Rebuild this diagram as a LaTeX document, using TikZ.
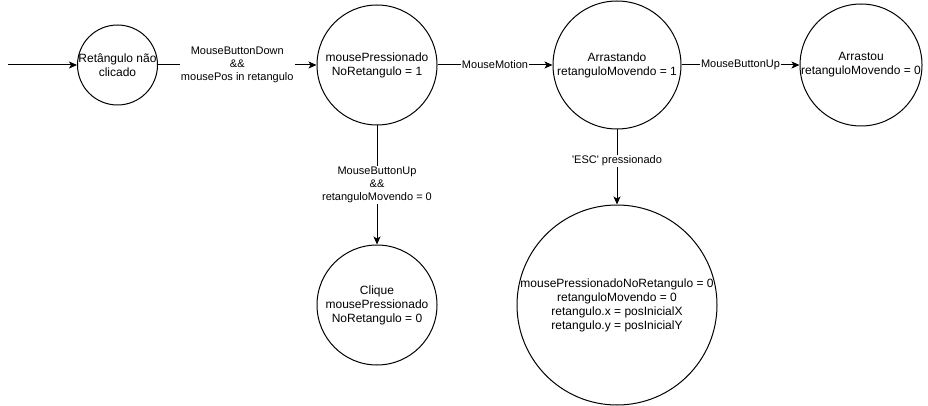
\documentclass[tikz,border=0pt]{standalone}
\usepackage{fontspec}
\setmainfont{Liberation Sans}[Ligatures=TeXOff]
\usetikzlibrary{arrows.meta}

\begin{document}
\begin{tikzpicture}[x=1pt,y=-1pt,
  state/.style={draw, circle, line width=1pt, inner sep=0pt},
  statetext/.style={font=\fontsize{12}{14}\selectfont, align=center, inner sep=0pt},
  trans/.style={-{Stealth[length=8pt,width=7pt,inset=2pt]}, line width=1pt},
  lbl/.style={fill=white, inner sep=1pt, font=\fontsize{11}{13}\selectfont, align=center}]

  \useasboundingbox (0,0) rectangle (928,406);

  % states
  \node[state, minimum size=80pt]  (s0) at (117.5,65) {};
  \node[state, minimum size=120pt] (s1) at (377,65) {};
  \node[state, minimum size=128pt] (s2) at (617,65) {};
  \node[state, minimum size=122pt] (s3) at (861,65) {};
  \node[state, minimum size=120pt] (s4) at (377,305) {};
  \node[state, minimum size=200pt] (s5) at (617,305) {};

  % state texts
  \node[statetext] (t0) at (s0) {Retângulo não\\clicado};
  \node[statetext] (t1) at (s1) {mousePressionado\\NoRetangulo = 1};
  \node[statetext] (t2) at (s2) {Arrastando\\retanguloMovendo = 1};
  \node[statetext] (t3) at (s3) {Arrastou\\retanguloMovendo = 0};
  \node[statetext] (t4) at (s4) {Clique\\mousePressionado\\NoRetangulo = 0};
  \node[statetext] (t5) at (s5) {mousePressionadoNoRetangulo = 0\\retanguloMovendo = 0\\retangulo.x = posInicialX\\retangulo.y = posInicialY};

  % initial arrow
  \coordinate (start) at (8,65);
  \draw[trans] (start) -- (s0);

  % transitions
  \draw[trans] (s0) -- node[lbl] {MouseButtonDown\\\&\&\\mousePos in retangulo} (s1);
  \draw[trans] (s1) -- node[lbl] {MouseMotion} (s2);
  \draw[trans] (s2) -- node[lbl] {MouseButtonUp} (s3);
  \draw[trans] (s1) -- node[lbl] {MouseButtonUp\\\&\&\\retanguloMovendo = 0} (s4);
  \draw[trans] (s2) -- node[lbl, pos=0.42] {'ESC' pressionado} (s5);
\end{tikzpicture}
\end{document}
